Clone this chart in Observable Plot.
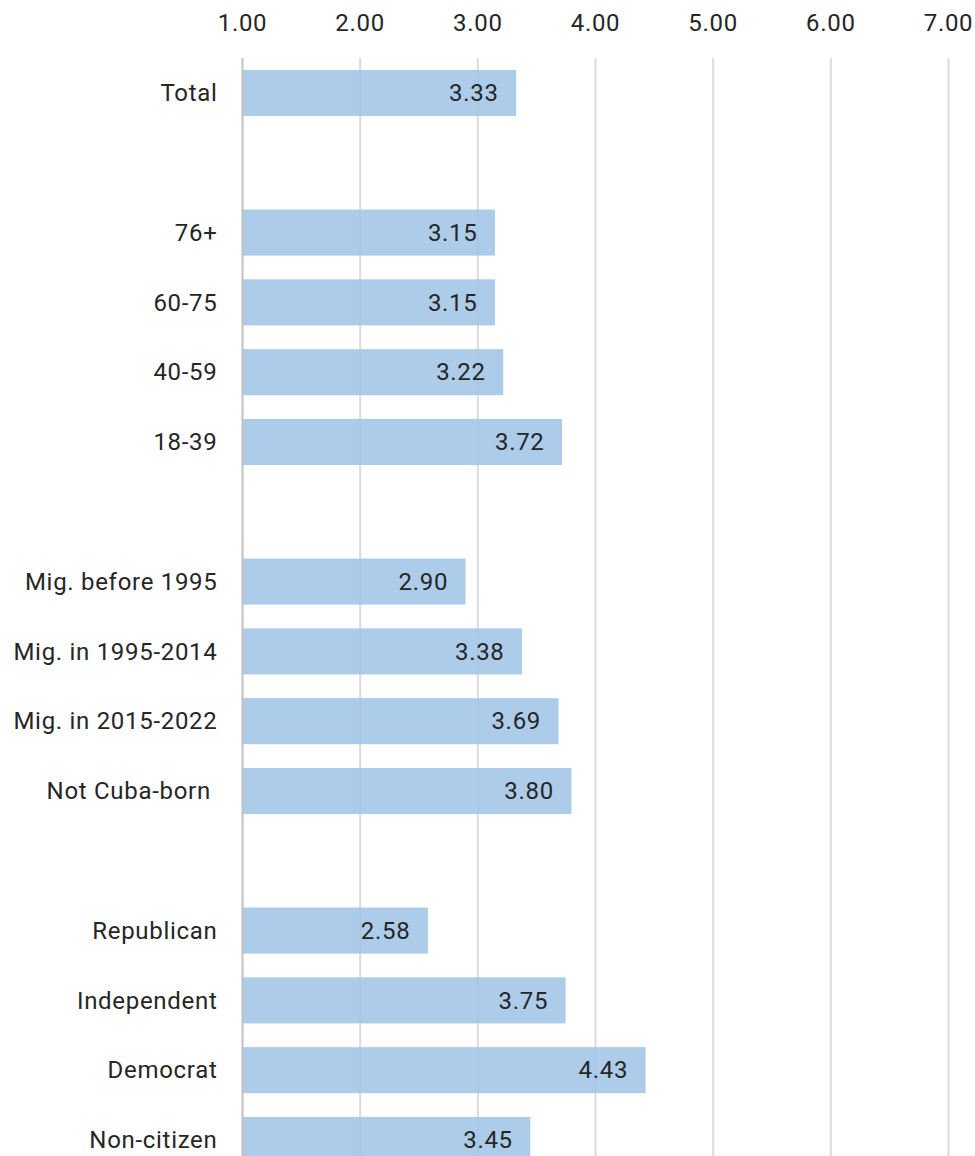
<!DOCTYPE html>
<html>
<head>
<meta charset="utf-8">
<script src="https://cdn.jsdelivr.net/npm/d3@7"></script>
<script src="https://cdn.jsdelivr.net/npm/@observablehq/plot@0.6"></script>
<style>
  html, body { margin: 0; padding: 0; background: #fff; overflow: hidden; }
  svg { display: block; }
</style>
</head>
<body>
<div id="chart"></div>
<script>
// Data
const labels = ["Total", "76+", "60-75", "40-59", "18-39",
  "Mig. before 1995", "Mig. in 1995-2014", "Mig. in 2015-2022", "Not Cuba-born\u00a0",
  "Republican", "Independent", "Democrat", "Non-citizen"];
const values = [3.33, 3.15, 3.15, 3.22, 3.72, 2.90, 3.38, 3.69, 3.80, 2.58, 3.75, 4.43, 3.45];
const xTicks = [1, 2, 3, 4, 5, 6, 7];
const baseline = 1;
// category order with blank spacer rows between groups
const order = ["Total", "_gap1", "76+", "60-75", "40-59", "18-39", "_gap2",
  "Mig. before 1995", "Mig. in 1995-2014", "Mig. in 2015-2022", "Not Cuba-born\u00a0", "_gap3",
  "Republican", "Independent", "Democrat", "Non-citizen"];

const data = labels.map((label, i) => ({label, value: values[i], base: baseline}));

const font = "Roboto, 'Open Sans', sans-serif";
const step = 69.8, pad = 0.34;
const start = 46.2;
const end = start + step * (order.length + pad);

const chart = Plot.plot({
  width: 975,
  height: 1156,
  marginLeft: 242,
  marginRight: 27,
  marginTop: 58,
  marginBottom: 0,
  style: {fontFamily: font, fontSize: "24px", color: "#262626", background: "#fff", letterSpacing: "0.7px", fontWeight: 400},
  x: {domain: [1, 7], ticks: xTicks},
  y: {domain: order, range: [start, end], padding: pad, round: false},
  marks: [
    Plot.ruleX(xTicks.slice(1), {stroke: "#dcdcdc", strokeWidth: 2}),
    Plot.barX(data, {y: "label", x1: "base", x2: "value", fill: "#9ec3e6", fillOpacity: 0.85}),
    Plot.ruleX([baseline], {stroke: "#c0c0c0", strokeWidth: 2}),
    Plot.text(data, {y: "label", x: "value", text: d => d.value.toFixed(2), textAnchor: "end", dx: -18, fill: "#262626", fontSize: 24}),
    Plot.axisX({anchor: "top", ticks: xTicks, tickSize: 0, tickPadding: 28, tickFormat: d => d.toFixed(2), fontSize: 24, fill: "#262626", label: null}),
    Plot.axisY({tickSize: 0, tickPadding: 25, tickFormat: d => d.startsWith("_gap") ? "" : d, fontSize: 24, fill: "#262626", label: null})
  ]
});
document.getElementById("chart").appendChild(chart);
</script>
</body>
</html>
